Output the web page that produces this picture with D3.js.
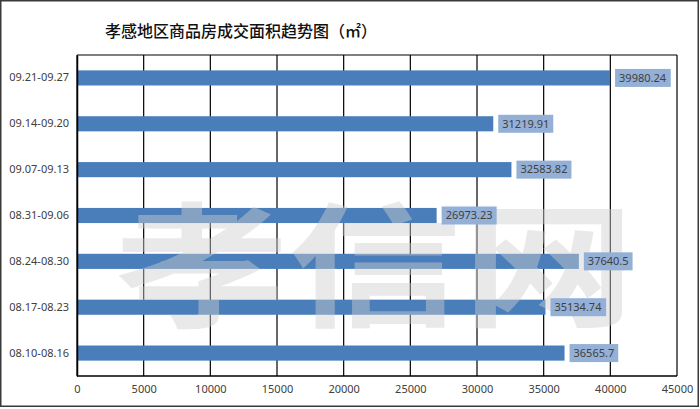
<!DOCTYPE html>
<html><head><meta charset="utf-8">
<script src="https://cdn.jsdelivr.net/npm/d3@7"></script>
<style>body{margin:0;background:#fff}svg{display:block}</style>
</head><body><div id="c"></div>
<script>
const title = "孝感地区商品房成交面积趋势图（㎡）";
const categories = ["09.21-09.27","09.14-09.20","09.07-09.13","08.31-09.06","08.24-08.30","08.17-08.23","08.10-08.16"];
const values = [39980.24,31219.91,32583.82,26973.23,37640.5,35134.74,36565.7];
const labels = ["39980.24","31219.91","32583.82","26973.23","37640.5","35134.74","36565.7"];
const xTicks = [0,5000,10000,15000,20000,25000,30000,35000,40000,45000];
const watermark = "孝信网";

const W=700,H=409;
const m={l:77,r:23,t:55,b:33};
const svg=d3.select("#c").append("svg").attr("width",W).attr("height",H);
svg.append("rect").attr("x",0.75).attr("y",0.75).attr("width",W-2.5).attr("height",H-3.5)
  .attr("fill","#fff").attr("stroke","#3a3a3a").attr("stroke-width",1.5);

const x=d3.scaleLinear().domain([0,45000]).range([m.l,W-m.r]);
const y=d3.scaleBand().domain(categories).range([m.t,H-m.b]).paddingInner(0.67).paddingOuter(0.335);

svg.append("text").attr("x",241).attr("y",37).attr("text-anchor","middle")
  .attr("font-family","'Noto Sans CJK SC'").attr("font-size",16).attr("font-weight",500)
  .attr("fill","#111").text(title);

// grid
svg.append("g").selectAll("line").data(xTicks).join("line")
  .attr("x1",d=>x(d)).attr("x2",d=>x(d)).attr("y1",m.t).attr("y2",H-m.b)
  .attr("stroke","#000").attr("stroke-width",1.2);
svg.append("line").attr("x1",m.l).attr("x2",W-m.r).attr("y1",m.t).attr("y2",m.t).attr("stroke","#000").attr("stroke-width",1.2);

// bars
svg.append("g").selectAll("rect").data(values).join("rect")
  .attr("x",x(0)).attr("y",(d,i)=>y(categories[i]))
  .attr("width",d=>x(d)-x(0)).attr("height",y.bandwidth())
  .attr("fill","#4a7ebb");

// bottom axis line
svg.append("line").attr("x1",m.l).attr("x2",W-m.r).attr("y1",H-m.b).attr("y2",H-m.b).attr("stroke","#000").attr("stroke-width",1.5);

// axis labels
const xa=d3.axisBottom(x).tickValues(xTicks).tickSize(0).tickPadding(9).tickFormat(d=>String(d));
const gx=svg.append("g").attr("transform",`translate(0,${H-m.b})`).call(xa);
gx.select(".domain").remove();
gx.selectAll("text").attr("font-family","'Noto Sans'").attr("font-size",11).attr("fill","#404040");
const ya=d3.axisLeft(y).tickSize(0).tickPadding(8);
const gy=svg.append("g").attr("transform",`translate(${m.l},0)`).call(ya);
gy.select(".domain").attr("stroke","#000").attr("stroke-width",1.5);
gy.selectAll("text").attr("font-family","'Noto Sans'").attr("font-size",11).attr("fill","#404040");

// watermark (under data labels)
svg.append("text").attr("x",115).attr("y",258).attr("dominant-baseline","central")
  .attr("textLength",520).attr("lengthAdjust","spacingAndGlyphs")
  .attr("font-family","'Noto Sans CJK SC'").attr("font-weight",700).attr("font-size",134)
  .attr("fill","#cfcfcf").attr("fill-opacity",0.45).text(watermark);

// data labels
const lg=svg.append("g");
values.forEach((v,i)=>{
  const cy=y(categories[i])+y.bandwidth()/2;
  const t=lg.append("text").attr("x",x(v)+9).attr("y",cy).attr("dy","0.35em")
    .attr("font-family","'Noto Sans'").attr("font-size",11).attr("fill","#404040").text(labels[i]);
  const bb=t.node().getBBox();
  lg.insert("rect","text").attr("x",x(v)+5).attr("y",cy-9).attr("width",bb.width+8).attr("height",18)
    .attr("fill","#94b0d6");
});
</script></body></html>
